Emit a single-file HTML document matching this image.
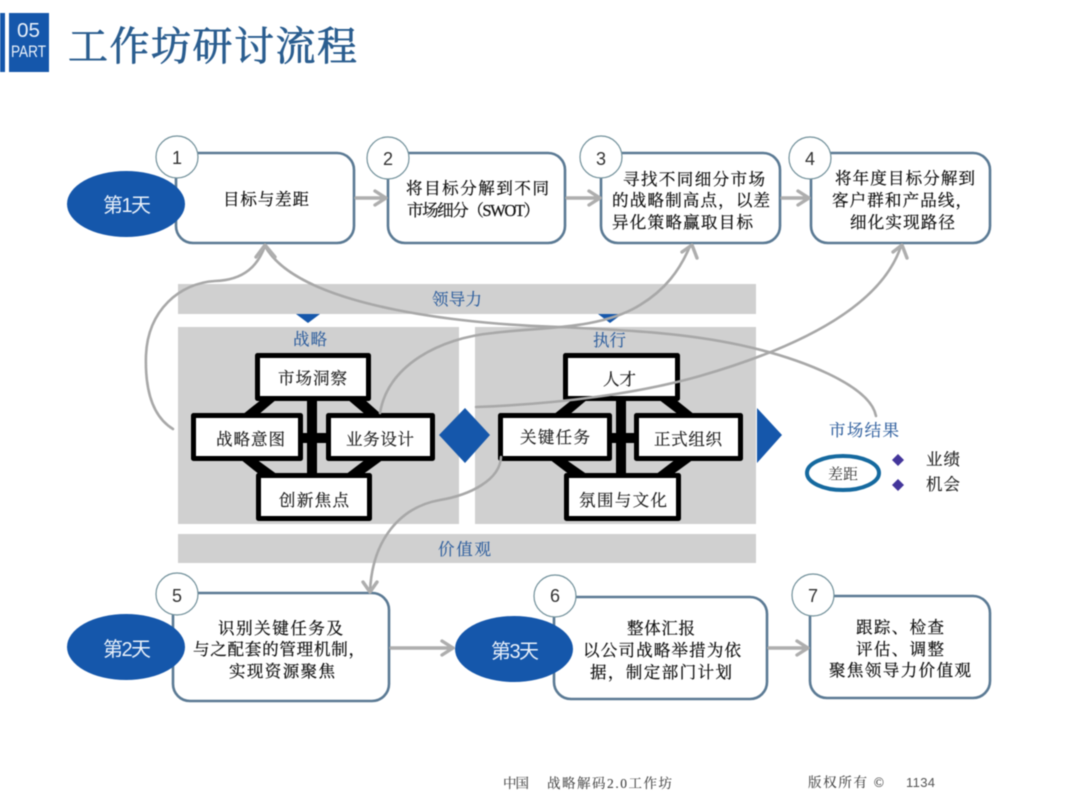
<!DOCTYPE html>
<html lang="zh">
<head>
<meta charset="utf-8">
<title>工作坊研讨流程</title>
<style>
html,body{margin:0;padding:0;background:#fff;width:1080px;height:810px;overflow:hidden}
svg{display:block;filter:blur(.4px)}
text{font-family:"Liberation Serif","Noto Serif CJK SC",serif;fill:#1c1c1c}
.s{font-size:16.5px;fill:#111;stroke:#111;stroke-width:.25}
.b{font-size:16.5px;fill:#2f5f9e;stroke:#2f5f9e;stroke-width:.15}
.i{font-size:16.5px;fill:#222;stroke:#222;stroke-width:.2}
.d{font-family:"Liberation Sans","Noto Sans CJK SC",sans-serif;font-size:20px;fill:#e8f0fa}
.n{font-family:"Liberation Sans",sans-serif;font-size:18px;fill:#333;text-anchor:middle}
.f{font-size:13.5px;fill:#444;stroke:#444;stroke-width:.1}
.box{fill:#fff;stroke:#5b7a94;stroke-width:2.6}
.c{fill:#fff;stroke:#71909a;stroke-width:1.2}
.day{fill:#1557ab}
.p{fill:#d0d0d0}
.in{fill:#fff;stroke:#000;stroke-width:5;stroke-linejoin:round}
.k{fill:#000}
.ln{fill:none;stroke:#a8a8a8;stroke-width:2.6;stroke-linecap:round;stroke-linejoin:round}
.ar{fill:none;stroke:#aeaeae;stroke-width:3.4;stroke-linecap:round;stroke-linejoin:round}
</style>
</head>
<body>
<svg width="1080" height="810" viewBox="0 0 1080 810" xmlns="http://www.w3.org/2000/svg">
<rect width="1080" height="810" fill="#fff"/>

<!-- header -->
<rect x="0" y="13" width="5" height="59" fill="#1557ab"/>
<rect x="9" y="13" width="40" height="59" fill="#1557ab"/>
<text x="17" y="37" textLength="23" lengthAdjust="spacingAndGlyphs" style="font-family:'Liberation Sans',sans-serif;font-size:20px;fill:#e8f0fa">05</text>
<text x="11" y="57" textLength="35" lengthAdjust="spacingAndGlyphs" style="font-family:'Liberation Sans',sans-serif;font-size:16.5px;fill:#e8f0fa">PART</text>
<text x="68" y="60" textLength="289" style="font-size:40px;fill:#2a5d8f;stroke:#2a5d8f;stroke-width:.7">工作坊研讨流程</text>

<!-- grey panels -->
<rect class="p" x="178" y="284" width="578" height="30"/>
<rect class="p" x="178" y="327" width="281" height="197"/>
<rect class="p" x="475" y="327" width="281" height="197"/>
<rect class="p" x="178" y="534" width="578" height="29"/>
<polygon points="296,314 320,314 308,323" fill="#1557ab"/>
<polygon points="598,314 622,314 610,323" fill="#1557ab"/>

<text class="b" x="432" y="305" textLength="50">领导力</text>
<text class="b" x="438" y="555" textLength="53">价值观</text>
<text class="b" x="293" y="345" textLength="34">战略</text>
<text class="b" x="593" y="346" textLength="33">执行</text>

<!-- left cluster connectors -->
<rect class="k" x="307" y="398" width="10" height="78"/>
<rect class="k" x="301" y="433" width="27" height="10"/>
<polygon class="k" points="242,415 262,399 277,399 258,415"/>
<polygon class="k" points="347,399 364,399 382,415 366,415"/>
<polygon class="k" points="240,459 256,459 278,475 260,475"/>
<polygon class="k" points="345,475 366,459 384,459 362,475"/>
<rect class="in" x="257.500" y="355.500" width="111" height="43"/>
<rect class="in" x="193.500" y="415.500" width="107" height="43"/>
<rect class="in" x="328.500" y="415.500" width="104" height="43"/>
<rect class="in" x="258.500" y="475.500" width="111" height="43"/>
<text class="i" x="278" y="384" textLength="69">市场洞察</text>
<text class="i" x="216" y="445" textLength="69">战略意图</text>
<text class="i" x="346" y="445" textLength="68">业务设计</text>
<text class="i" x="279" y="506" textLength="70">创新焦点</text>

<!-- right cluster connectors -->
<rect class="k" x="616" y="398" width="10" height="78"/>
<rect class="k" x="610" y="433" width="27" height="10"/>
<polygon class="k" points="553,415 573,399 588,399 569,415"/>
<polygon class="k" points="658,399 675,399 695,415 679,415"/>
<polygon class="k" points="549,459 565,459 588,475 570,475"/>
<polygon class="k" points="655,475 676,459 694,459 672,475"/>
<rect class="in" x="565.500" y="355.500" width="112" height="43"/>
<rect class="in" x="500.500" y="415.500" width="109" height="43"/>
<rect class="in" x="636.500" y="415.500" width="104" height="43"/>
<rect class="in" x="566.500" y="475.500" width="112" height="43"/>
<text class="i" x="603" y="385" textLength="33">人才</text>
<text class="i" x="520" y="443" textLength="70">关键任务</text>
<text class="i" x="654" y="445" textLength="68">正式组织</text>
<text class="i" x="579" y="506" textLength="88">氛围与文化</text>

<!-- diamond + arrow -->
<polygon points="439,435 465,408 490,435 465,463" fill="#1557ab"/>
<polygon points="757,408 782,435 757,463" fill="#1557ab"/>

<!-- market result -->
<text class="b" x="829" y="436" textLength="70">市场结果</text>
<ellipse cx="843" cy="473" rx="36" ry="17" fill="#fff" stroke="#15699f" stroke-width="4"/>
<text x="828" y="479" textLength="30" style="font-size:15px;fill:#333">差距</text>
<polygon points="898,454 904,460 898,466 892,460" fill="#43359b"/>
<polygon points="898,479 904,485 898,491 892,485" fill="#43359b"/>
<text class="i" x="926" y="465" textLength="34">业绩</text>
<text class="i" x="926" y="490" textLength="34">机会</text>

<!-- top boxes -->
<rect class="box" x="176" y="153" width="178" height="90" rx="17"/>
<rect class="box" x="388" y="153" width="177" height="90" rx="17"/>
<rect class="box" x="601" y="153" width="179" height="90" rx="17"/>
<rect class="box" x="811" y="153" width="179" height="90" rx="17"/>

<text class="s" x="223" y="205" textLength="86">目标与差距</text>
<text class="s" x="406" y="194" textLength="143">将目标分解到不同</text>
<text class="s" x="407" y="216" textLength="133">市场细分（SWOT）</text>
<text class="s" x="623" y="185" textLength="142">寻找不同细分市场</text>
<text class="s" x="612" y="206" textLength="158">的战略制高点，以差</text>
<text class="s" x="612" y="228" textLength="141">异化策略赢取目标</text>
<text class="s" x="835" y="184" textLength="140">将年度目标分解到</text>
<text class="s" x="832" y="206" textLength="140">客户群和产品线，</text>
<text class="s" x="850" y="228" textLength="105">细化实现路径</text>

<!-- bottom boxes -->
<rect class="box" x="173" y="593" width="216" height="108" rx="17"/>
<rect class="box" x="554" y="597" width="213" height="102" rx="17"/>
<rect class="box" x="810" y="596" width="180" height="102" rx="17"/>

<text class="s" x="218" y="634" textLength="125">识别关键任务及</text>
<text class="s" x="193" y="655" textLength="172">与之配套的管理机制，</text>
<text class="s" x="229" y="677" textLength="106">实现资源聚焦</text>
<text class="s" x="627" y="634" textLength="68">整体汇报</text>
<text class="s" x="583" y="656" textLength="158">以公司战略举措为依</text>
<text class="s" x="590" y="678" textLength="142">据，制定部门计划</text>
<text class="s" x="856" y="633" textLength="88">跟踪、检查</text>
<text class="s" x="856" y="655" textLength="88">评估、调整</text>
<text class="s" x="829" y="676" textLength="142">聚焦领导力价值观</text>

<!-- ellipses -->
<ellipse class="day" cx="126" cy="204" rx="59" ry="33"/>
<ellipse class="day" cx="126" cy="647" rx="59" ry="33"/>
<ellipse class="day" cx="514" cy="649" rx="59" ry="33"/>
<text class="d" x="103" y="212" textLength="48">第1天</text>
<text class="d" x="103" y="656" textLength="48">第2天</text>
<text class="d" x="491" y="658" textLength="48">第3天</text>

<!-- numbered circles -->
<circle class="c" cx="177" cy="157" r="21"/><text class="n" x="177" y="164">1</text>
<circle class="c" cx="388" cy="158" r="21"/><text class="n" x="388" y="165">2</text>
<circle class="c" cx="601" cy="157" r="21"/><text class="n" x="601" y="165">3</text>
<circle class="c" cx="810" cy="158" r="21"/><text class="n" x="810" y="165">4</text>
<circle class="c" cx="177" cy="594" r="21"/><text class="n" x="177" y="602">5</text>
<circle class="c" cx="555" cy="596" r="21"/><text class="n" x="555" y="602">6</text>
<circle class="c" cx="813" cy="595" r="21"/><text class="n" x="813" y="602">7</text>

<!-- straight arrows -->
<path class="ar" d="M356 198H386M375 191L386 198L375 205"/>
<path class="ar" d="M567 198H600M589 191L600 198L589 205"/>
<path class="ar" d="M782 198H809M798 191L809 198L798 205"/>
<path class="ar" d="M391 648H453M442 641L453 648L442 655"/>
<path class="ar" d="M769 648H808M797 641L808 648L797 655"/>

<!-- curved connectors -->
<path class="ln" d="M173 429C150 415 145 385 146 355C148 310 180 283 215 281C245 280 258 265 265 246"/>
<path class="ln" d="M876 416C870 385 800 358 740 345C680 332 620 330 560 327C480 325 300 310 265 246"/>
<path class="ln" d="M380 413C388 365 440 338 493 333C540 327 600 330 640 305C665 290 680 270 690 246"/>
<path class="ln" d="M476 407C560 404 640 393 700 376C790 350 880 310 901 246"/>
<path class="ln" d="M501 457C500 480 470 495 440 500C400 507 372 540 370 592"/>

<!-- curved arrowheads -->
<path class="ar" d="M256 257L265 245L275 257"/>
<path class="ar" d="M682 252L692 245L697 258"/>
<path class="ar" d="M893 252L902 245L907 258"/>
<path class="ar" d="M363 582L370 592L377 582"/>

<!-- footer -->
<text class="f" x="503" y="788" textLength="26">中国</text>
<text class="f" x="547" y="788" textLength="125">战略解码2.0工作坊</text>
<text class="f" x="808" y="787" textLength="76">版权所有 ©</text>
<text x="906" y="787" textLength="29" style="font-family:'Liberation Sans',sans-serif;font-size:13px;fill:#555">1134</text>
</svg>
</body>
</html>
